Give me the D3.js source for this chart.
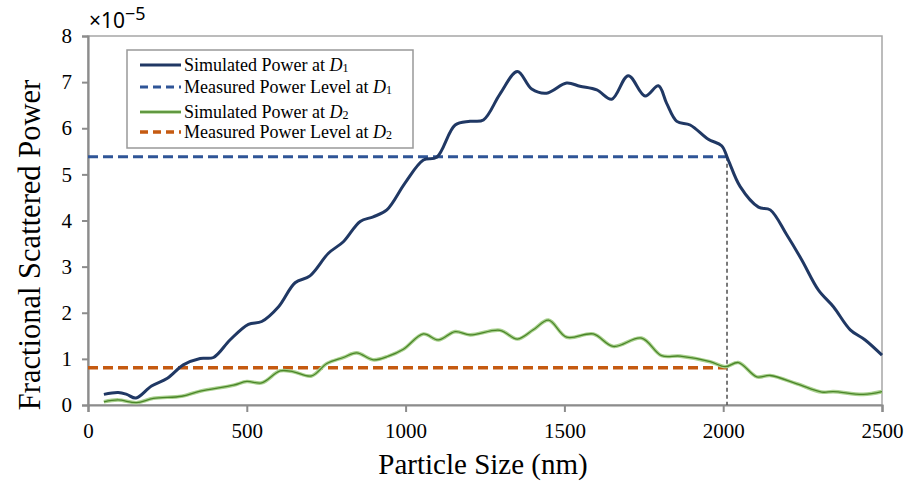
<!DOCTYPE html>
<meta charset="utf-8">
<style>
    body {
        margin: 0;
        background: #fff;
    }
    svg text {
        font-family: "Liberation Serif", "Times New Roman", Times, serif !important;
        fill: #000;
    }
    svg text.expo {
        font-family: "Noto Sans", "Open Sans", sans-serif !important;
    }
</style>

<body>
    <script src="https://cdn.jsdelivr.net/npm/d3@7"></script>
    <script>
        // values (power in units of 1e-5)
        var d1Size = [50, 95, 122, 151, 200, 250, 300, 353, 395, 447, 505, 547, 600, 652, 699, 757, 804, 857, 898, 941,
            998, 1056, 1098, 1156, 1203, 1245, 1297, 1352, 1397, 1444, 1507, 1549, 1602, 1649, 1701, 1754, 1796, 1822,
            1854, 1896, 1953, 1995, 2016, 2053, 2111, 2148, 2200, 2247, 2300, 2347, 2400, 2447, 2500];
        var d1Power = [0.23, 0.27, 0.23, 0.15, 0.41, 0.58, 0.87, 1.01, 1.03, 1.41, 1.75, 1.81, 2.13, 2.65, 2.80, 3.29, 3.54,
            3.98, 4.08, 4.23, 4.81, 5.31, 5.37, 6.07, 6.15, 6.18, 6.74, 7.23, 6.85, 6.76, 6.98, 6.91, 6.83, 6.63, 7.14,
            6.70, 6.92, 6.54, 6.15, 6.07, 5.76, 5.62, 5.31, 4.74, 4.29, 4.23, 3.69, 3.15, 2.49, 2.13, 1.63, 1.41, 1.08];

        var d2Size = [50, 95, 153, 206, 295, 353, 458, 500, 547, 605, 647, 704, 752, 804, 846, 898, 946, 993, 1056, 1103,
            1156, 1203, 1297, 1352, 1402, 1450, 1507, 1591, 1654, 1743, 1806, 1864, 1959, 2006, 2048, 2106, 2148, 2232,
            2310, 2347, 2441, 2500];
        var d2Power = [0.07, 0.11, 0.05, 0.145, 0.19, 0.30, 0.43, 0.51, 0.48, 0.74, 0.72, 0.63, 0.90, 1.03, 1.13, 0.98,
            1.06, 1.21, 1.54, 1.41, 1.59, 1.52, 1.62, 1.43, 1.63, 1.84, 1.47, 1.54, 1.27, 1.45, 1.07, 1.06, 0.94, 0.83,
            0.92, 0.61, 0.64, 0.46, 0.28, 0.29, 0.23, 0.29];

        var measured1 = 5.38,
            measured2 = 0.81,
            crossSize = 2012;

        var xTicks = [0, 500, 1000, 1500, 2000, 2500];
        var yTicks = [0, 1, 2, 3, 4, 5, 6, 7, 8];

        var legendLabels = [
            ["Simulated Power at ", "1"],
            ["Measured Power Level at ", "1"],
            ["Simulated Power at ", "2"],
            ["Measured Power Level at ", "2"]
        ];

        var width = 908,
            height = 483,
            margin = { top: 36, right: 26, bottom: 78, left: 88 };

        var svg = d3.select("body").append("svg")
            .attr("width", width)
            .attr("height", height);

        var x = d3.scaleLinear()
            .domain([0, 2500])
            .range([margin.left, width - margin.right]);

        var y = d3.scaleLinear()
            .domain([0, 8])
            .range([height - margin.bottom, margin.top]);

        // frame
        svg.append("rect")
            .attr("x", x(0))
            .attr("y", y(8))
            .attr("width", x(2500) - x(0))
            .attr("height", y(0) - y(8))
            .attr("fill", "none")
            .attr("stroke", "#a6a6a6")
            .attr("stroke-width", 1.5);

        var xAxis = svg.append("g")
            .attr("transform", "translate(0," + y(0) + ")")
            .call(d3.axisBottom(x).tickValues(xTicks).tickSize(7).tickPadding(8).tickFormat(d3.format("d")));

        var yAxis = svg.append("g")
            .attr("transform", "translate(" + x(0) + ",0)")
            .call(d3.axisLeft(y).tickValues(yTicks).tickSize(6).tickPadding(10).tickFormat(d3.format("d")));

        [xAxis, yAxis].forEach(function (g) {
            g.attr("font-family", null).attr("font-size", null);
            g.select(".domain").attr("stroke", "#8c8c8c").attr("stroke-width", 2.2);
            g.selectAll(".tick line").attr("stroke", "#8c8c8c").attr("stroke-width", 2);
            g.selectAll(".tick text")
                .attr("font-size", 21)
                .attr("fill", "#000");
        });
        xAxis.selectAll(".tick text").attr("dy", "0.85em");

        // exponent label
        var expo = svg.append("text")
            .attr("class", "expo")
            .attr("x", 89)
            .attr("y", 28)
            .attr("font-size", 21);
        expo.append("tspan").text("×10");
        expo.append("tspan").attr("dy", -8).attr("font-size", 18).text("−5");

        var line = d3.line()
            .x(function (d) { return x(d[0]); })
            .y(function (d) { return y(d[1]); })
            .curve(d3.curveCatmullRom.alpha(0.5));

        var d1 = d3.zip(d1Size, d1Power),
            d2 = d3.zip(d2Size, d2Power);

        // measured levels
        svg.append("line")
            .attr("x1", x(crossSize)).attr("x2", x(crossSize))
            .attr("y1", y(measured1)).attr("y2", y(0))
            .attr("stroke", "#595959")
            .attr("stroke-width", 1.6)
            .attr("stroke-dasharray", "4,3");

        svg.append("line")
            .attr("x1", x(0)).attr("x2", x(crossSize))
            .attr("y1", y(measured1)).attr("y2", y(measured1))
            .attr("stroke", "#2f5597")
            .attr("stroke-width", 3)
            .attr("stroke-dasharray", "10,5");

        svg.append("line")
            .attr("x1", x(0)).attr("x2", x(crossSize))
            .attr("y1", y(measured2)).attr("y2", y(measured2))
            .attr("stroke", "#c55a11")
            .attr("stroke-width", 3.5)
            .attr("stroke-dasharray", "10,5");

        // simulated curves
        svg.append("path")
            .datum(d2)
            .attr("fill", "none")
            .attr("stroke", "#a9d18e")
            .attr("stroke-width", 3.6)
            .attr("d", line);
        svg.append("path")
            .datum(d2)
            .attr("fill", "none")
            .attr("stroke", "#4a8528")
            .attr("stroke-width", 1.3)
            .attr("d", line);

        svg.append("path")
            .datum(d1)
            .attr("fill", "none")
            .attr("stroke", "#203864")
            .attr("stroke-width", 3)
            .attr("stroke-linejoin", "round")
            .attr("d", line);

        // axis titles
        svg.append("text")
            .attr("x", x(1250) - 2)
            .attr("y", 474)
            .attr("text-anchor", "middle")
            .attr("font-size", 29)
            .text("Particle Size (nm)");

        svg.append("text")
            .attr("transform", "translate(40,245) rotate(-90)")
            .attr("text-anchor", "middle")
            .attr("font-size", 30.5)
            .text("Fractional Scattered Power");

        // legend
        var legend = svg.append("g");
        legend.append("rect")
            .attr("x", 127).attr("y", 50)
            .attr("width", 286).attr("height", 98)
            .attr("fill", "#fff")
            .attr("stroke", "#999")
            .attr("stroke-width", 1.5);

        var rowY = [65, 87, 112, 132];

        // sample lines
        legend.append("line").attr("x1", 140).attr("x2", 181).attr("y1", rowY[0]).attr("y2", rowY[0])
            .attr("stroke", "#203864").attr("stroke-width", 3);
        legend.append("line").attr("x1", 140).attr("x2", 181).attr("y1", rowY[1]).attr("y2", rowY[1])
            .attr("stroke", "#2f5597").attr("stroke-width", 3).attr("stroke-dasharray", "8,5");
        legend.append("line").attr("x1", 140).attr("x2", 181).attr("y1", rowY[2]).attr("y2", rowY[2])
            .attr("stroke", "#a9d18e").attr("stroke-width", 3.6);
        legend.append("line").attr("x1", 140).attr("x2", 181).attr("y1", rowY[2]).attr("y2", rowY[2])
            .attr("stroke", "#4a8528").attr("stroke-width", 1.3);
        legend.append("line").attr("x1", 140).attr("x2", 181).attr("y1", rowY[3]).attr("y2", rowY[3])
            .attr("stroke", "#c55a11").attr("stroke-width", 3.4).attr("stroke-dasharray", "8,5");

        legendLabels.forEach(function (lab, i) {
            var t = legend.append("text")
                .attr("x", 184)
                .attr("y", rowY[i] + 6)
                .attr("font-size", 18);
            t.append("tspan").text(lab[0]);
            t.append("tspan").attr("font-style", "italic").text("D");
            t.append("tspan").attr("font-size", 12).attr("dy", 1).text(lab[1]);
        });
    </script>
</body>
